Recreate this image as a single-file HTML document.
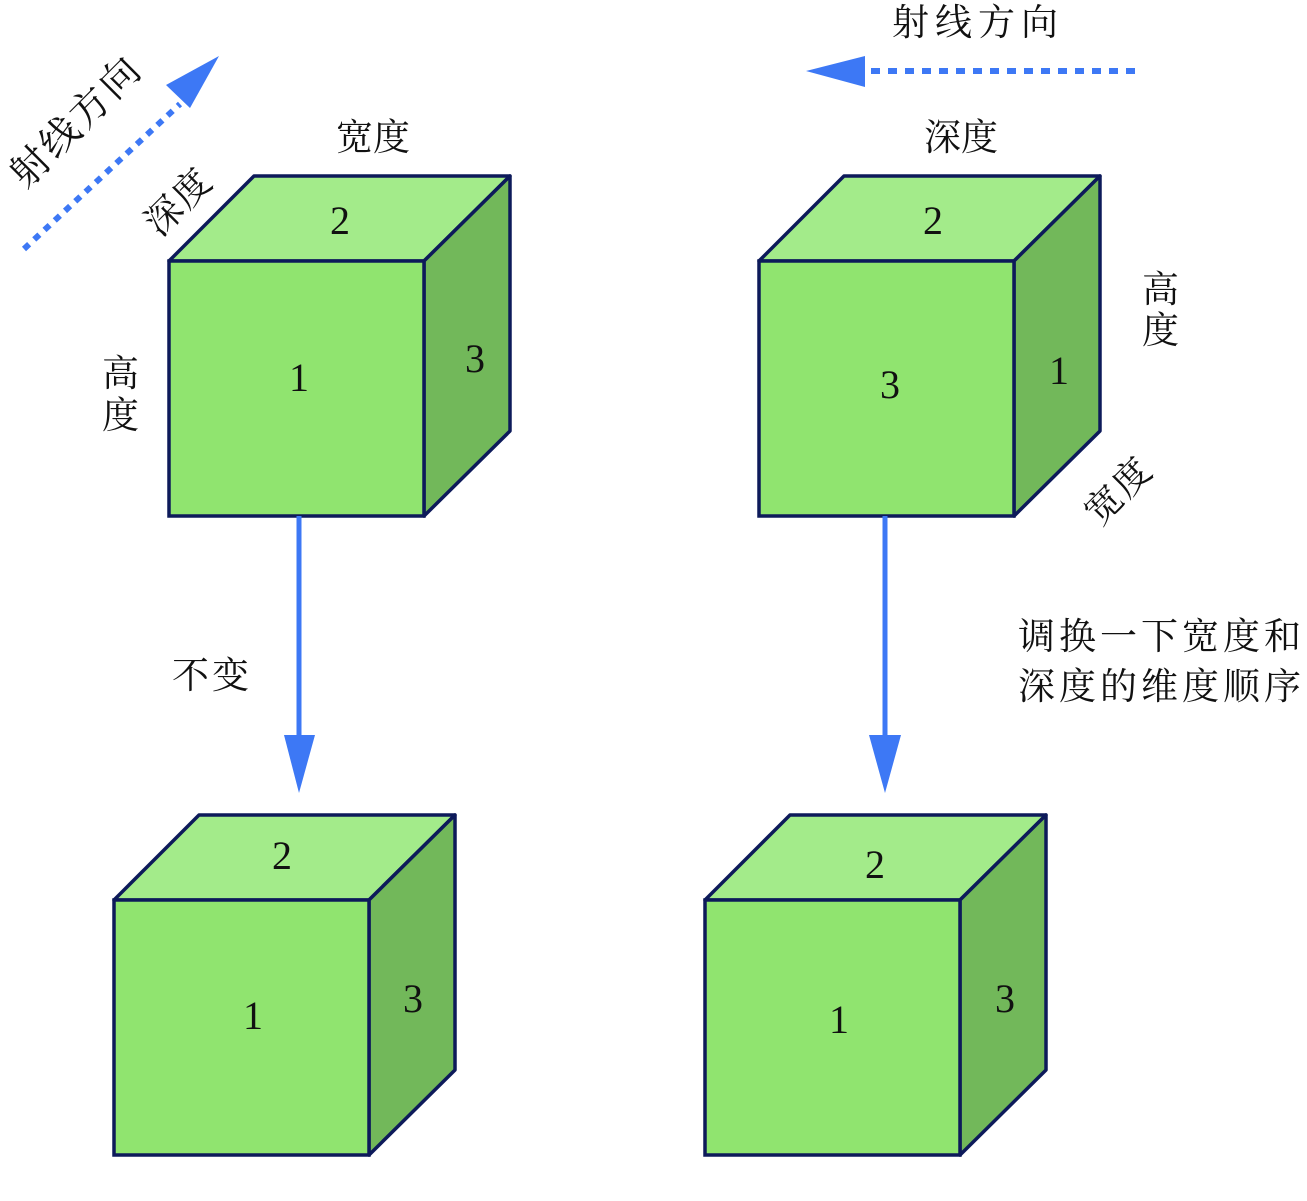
<!DOCTYPE html>
<html><head><meta charset="utf-8"><style>
html,body{margin:0;padding:0;background:#fff;}
svg{display:block;}
.cn{font-family:"Liberation Serif","Noto Serif CJK SC",serif;font-size:37px;fill:#111;}
.n{font-family:"Liberation Serif","Times New Roman",serif;font-size:40px;fill:#111;text-anchor:middle;}
</style></head><body>
<svg width="1307" height="1201" viewBox="0 0 1307 1201" xmlns="http://www.w3.org/2000/svg">
<defs>
<g id="cube">
<polygon points="0,85 85,0 341,0 255,85" fill="#a3eb8a" stroke="#0d1a5a" stroke-width="3.5" stroke-linejoin="round"/>
<polygon points="255,85 341,0 341,255 255,340" fill="#72b85a" stroke="#0d1a5a" stroke-width="3.5" stroke-linejoin="round"/>
<rect x="0" y="85" width="255" height="255" fill="#90e46f" stroke="#0d1a5a" stroke-width="3.5"/>
</g>
</defs>
<use href="#cube" x="169" y="176"/>
<use href="#cube" x="759" y="176"/>
<use href="#cube" x="114" y="815"/>
<use href="#cube" x="705" y="815"/>
<text class="n" x="340" y="234">2</text>
<text class="n" x="299" y="391">1</text>
<text class="n" x="475" y="372">3</text>
<text class="n" x="933" y="234">2</text>
<text class="n" x="890" y="398">3</text>
<text class="n" x="1059" y="384">1</text>
<text class="n" x="282" y="869">2</text>
<text class="n" x="253" y="1029">1</text>
<text class="n" x="413" y="1012">3</text>
<text class="n" x="875" y="878">2</text>
<text class="n" x="839" y="1033">1</text>
<text class="n" x="1005" y="1012">3</text>
<line x1="299" y1="516" x2="299" y2="740" stroke="#3d78f5" stroke-width="5"/>
<polygon points="284,735 315,735 299,793" fill="#3d78f5"/>
<line x1="885" y1="516" x2="885" y2="740" stroke="#3d78f5" stroke-width="5"/>
<polygon points="869,735 901,735 885,793" fill="#3d78f5"/>
<line x1="24" y1="249" x2="180" y2="104" stroke="#3d78f5" stroke-width="6" stroke-dasharray="7,7"/>
<polygon points="219,56 166,85 190,108" fill="#3d78f5"/>
<line x1="1135" y1="71" x2="865" y2="71" stroke="#3d78f5" stroke-width="6" stroke-dasharray="9,8"/>
<polygon points="806,71 865,56 865,87" fill="#3d78f5"/>
<text class="cn" x="336" y="150">宽度</text>
<text class="cn" transform="translate(160,238) rotate(-45)" letter-spacing="2">深度</text>
<text class="cn" transform="translate(26,190) rotate(-45)" letter-spacing="3" style="font-size:39px">射线方向</text>
<text class="cn" x="102" y="386">高</text>
<text class="cn" x="102" y="428">度</text>
<text class="cn" x="892" y="35" letter-spacing="6">射线方向</text>
<text class="cn" x="924" y="150">深度</text>
<text class="cn" x="1142" y="302">高</text>
<text class="cn" x="1142" y="343">度</text>
<text class="cn" transform="translate(1100,527) rotate(-45)" letter-spacing="2">宽度</text>
<text class="cn" x="172" y="688" letter-spacing="3">不变</text>
<text class="cn" x="1018" y="649" letter-spacing="4">调换一下宽度和</text>
<text class="cn" x="1018" y="699" letter-spacing="4">深度的维度顺序</text>
</svg>
</body></html>
